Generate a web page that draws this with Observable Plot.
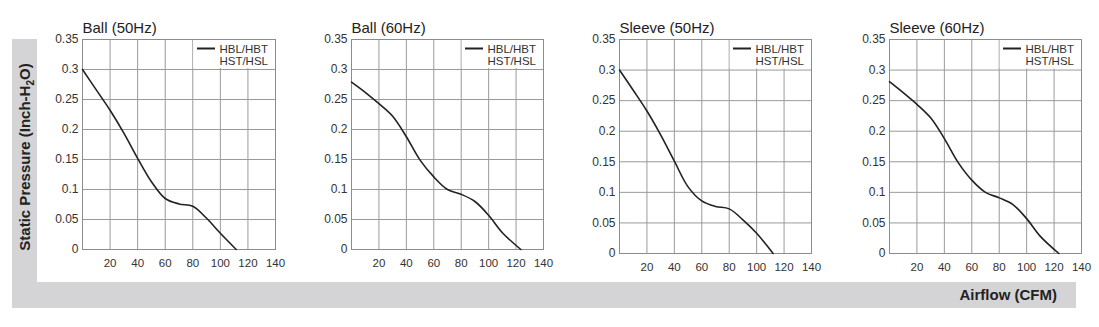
<!DOCTYPE html>
<html>
<head>
<meta charset="utf-8">
<script src="https://cdn.jsdelivr.net/npm/d3@7"></script>
<script src="https://cdn.jsdelivr.net/npm/@observablehq/plot@0.6"></script>
<style>
  html, body { margin: 0; padding: 0; background: #fff; }
  #chart { position: relative; width: 1099px; height: 327px; font-family: "Liberation Sans", Arial, sans-serif; }
  #chart > svg, #chart > figure { position: absolute; top: 0; margin: 0; }
</style>
</head>
<body>
<div id="chart"></div>
<script>
// Fan performance curves: static pressure vs. airflow
const panelTitles = ["Ball (50Hz)", "Ball (60Hz)", "Sleeve (50Hz)", "Sleeve (60Hz)"];
const legendLabels = ["HBL/HBT", "HST/HSL"];
const xTicks = [20, 40, 60, 80, 100, 120, 140];
const xGrid = [0, 20, 40, 60, 80, 100, 120, 140];
const yTicks = [0, 0.05, 0.1, 0.15, 0.2, 0.25, 0.3, 0.35];
const legendBox = {x: 80, y: 0.3}; // legend panel covers the cells right of x=80, above y=0.3
const yLabel = "Static Pressure (Inch-H";
const xLabel = "Airflow (CFM)";

const airflowBall50 = [0, 10, 20, 30, 40, 50, 60, 70, 80, 90, 100, 111.5];
const pressureBall50 = [0.3, 0.266, 0.232, 0.194, 0.152, 0.113, 0.085, 0.076, 0.072, 0.052, 0.027, 0];

const airflowBall60 = [0, 10, 20, 30, 40, 50, 60, 70, 80, 90, 100, 110, 123.5];
const pressureBall60 = [0.279, 0.262, 0.243, 0.222, 0.188, 0.149, 0.121, 0.1, 0.092, 0.08, 0.057, 0.028, 0];

const airflowSleeve50 = [0, 10, 20, 30, 40, 50, 60, 70, 80, 90, 100, 112];
const pressureSleeve50 = [0.3, 0.267, 0.233, 0.194, 0.151, 0.109, 0.086, 0.077, 0.073, 0.055, 0.033, 0];

const airflowSleeve60 = [0, 10, 20, 30, 40, 50, 60, 70, 80, 90, 100, 110, 123.5];
const pressureSleeve60 = [0.281, 0.263, 0.244, 0.222, 0.188, 0.149, 0.12, 0.1, 0.091, 0.08, 0.057, 0.028, 0];

const series = [
  [airflowBall50, pressureBall50],
  [airflowBall60, pressureBall60],
  [airflowSleeve50, pressureSleeve50],
  [airflowSleeve60, pressureSleeve60]
];

// layout of each panel's plotting frame
const frameLeft = [82, 351, 619, 889];
const frameWidth = [193, 192, 192, 192];
const frameHeight = [210, 210, 214, 214];
const mLeft = 45, mRight = 12, mTop = 39, svgHeight = 277;

const chart = document.getElementById("chart");

// grey L-shaped backdrop with the shared axis titles
const back = d3.create("svg").attr("width", 1099).attr("height", 327)
  .style("position", "absolute").style("left", 0).style("top", 0);
back.append("rect").attr("x", 12).attr("y", 39).attr("width", 25).attr("height", 269).attr("fill", "#d4d4d6");
back.append("rect").attr("x", 12).attr("y", 282).attr("width", 1064).attr("height", 26).attr("fill", "#d4d4d6");
const yt = back.append("text")
  .attr("transform", "translate(30,157) rotate(-90)")
  .attr("text-anchor", "middle")
  .attr("font-family", "Liberation Sans, Arial, sans-serif")
  .attr("font-weight", "bold").attr("font-size", 15).attr("fill", "#222");
yt.append("tspan").text(yLabel);
yt.append("tspan").attr("font-size", 10).attr("dy", 4).text("2");
yt.append("tspan").attr("dy", -4).text("O)");
back.append("text")
  .attr("x", 1057).attr("y", 300)
  .attr("text-anchor", "end")
  .attr("font-family", "Liberation Sans, Arial, sans-serif")
  .attr("font-weight", "bold").attr("font-size", 15).attr("fill", "#222")
  .text(xLabel);
chart.appendChild(back.node());

// legend: white panel over the top-right cells, swatch and labels
function legendMark(index, scales, values, dims) {
  const g = d3.create("svg:g").attr("font-family", "Liberation Sans, Arial, sans-serif");
  const right = dims.width - dims.marginRight;
  const top = dims.marginTop;
  const bx = scales.x(legendBox.x), by = scales.y(legendBox.y);
  g.append("rect")
    .attr("x", bx + 1).attr("y", top)
    .attr("width", right - bx - 1).attr("height", by - top - 1)
    .attr("fill", "#fff");
  g.append("line")
    .attr("x1", right - 78).attr("x2", right - 60)
    .attr("y1", top + 9.5).attr("y2", top + 9.5)
    .attr("stroke", "#222").attr("stroke-width", 2);
  legendLabels.forEach((t, i) => {
    g.append("text")
      .attr("x", right - 7).attr("y", top + 9.5 + i * 12.5)
      .attr("dy", "0.35em")
      .attr("text-anchor", "end")
      .attr("font-size", 11.5).attr("fill", "#333")
      .text(t);
  });
  return g.node();
}

series.forEach(([xs, ys], i) => {
  const data = xs.map((x, k) => ({airflow: x, pressure: ys[k]}));
  const plot = Plot.plot({
    width: mLeft + frameWidth[i] + mRight,
    height: svgHeight,
    marginLeft: mLeft,
    marginRight: mRight,
    marginTop: mTop,
    marginBottom: svgHeight - mTop - frameHeight[i],
    style: {background: "transparent", overflow: "visible", fontFamily: "Liberation Sans, Arial, sans-serif"},
    x: {domain: [0, 140]},
    y: {domain: [0, 0.35]},
    marks: [
      Plot.gridX(xGrid, {stroke: "#9a9a9a", strokeOpacity: 1}),
      Plot.gridY(yTicks, {stroke: "#9a9a9a", strokeOpacity: 1}),
      legendMark,
      Plot.frame({stroke: "#8c8c8c"}),
      Plot.axisX(xTicks, {tickSize: 0, tickPadding: 9, fontSize: 11.5, fill: "#333", label: null, tickFormat: d => String(d)}),
      Plot.axisY(yTicks, {tickSize: 0, tickPadding: 4, fontSize: 12, fill: "#333", label: null, tickFormat: d => String(+d.toFixed(2))}),
      Plot.line(data, {x: "airflow", y: "pressure", curve: "catmull-rom", stroke: "#222", strokeWidth: 1.6}),
      Plot.text([panelTitles[i]], {frameAnchor: "top-left", lineAnchor: "middle", dy: -11, textAnchor: "start", fontSize: 15, fill: "#222", text: d => d})
    ]
  });
  plot.style.position = "absolute";
  plot.style.left = (frameLeft[i] - mLeft) + "px";
  plot.style.top = "0px";
  chart.appendChild(plot);
});
</script>
</body>
</html>
